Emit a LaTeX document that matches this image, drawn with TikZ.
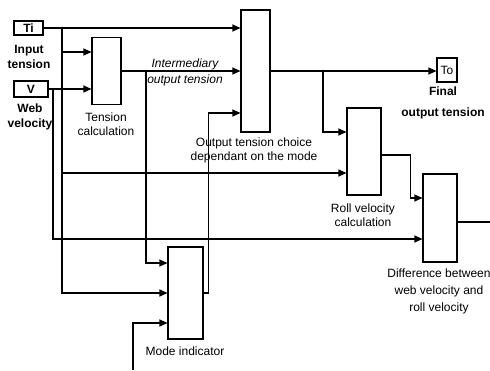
\documentclass[tikz,border=0pt]{standalone}
\usepackage{fontspec}
\setmainfont{Liberation Sans}
\usetikzlibrary{arrows.meta}

\begin{document}
\begin{tikzpicture}[x=1pt,y=-1pt,line width=1.1pt,
  blk/.style={draw,rectangle,inner sep=0pt},
  sig/.style={-{Triangle[length=8pt,width=7pt]}},
  lbl/.style={align=center,inner sep=0pt,font=\fontsize{12}{14}\selectfont},
  bld/.style={align=center,inner sep=0pt,font=\fontsize{12}{15}\selectfont\bfseries}]
  \useasboundingbox (0,0) rectangle (490,370);
  % ports
  \node[blk,bld,minimum width=29pt,minimum height=14pt] (ti) at (28.5,28) {Ti};
  \node[blk,bld,minimum width=34pt,minimum height=16pt] (v) at (31,89) {V};
  \node[blk,lbl,minimum width=20pt,minimum height=24pt] (to) at (447,70) {To};
  % blocks
  \node[blk,minimum width=29pt,minimum height=67pt] (tcalc) at (106.5,71) {};
  \node[blk,minimum width=29pt,minimum height=122pt] (choice) at (255.5,71) {};
  \node[blk,minimum width=34pt,minimum height=87pt] (roll) at (364,151.5) {};
  \node[blk,minimum width=34pt,minimum height=88pt] (diff) at (440,218) {};
  \node[blk,minimum width=35pt,minimum height=92pt] (mode) at (185.5,293) {};
  % labels
  \node[bld] (tilbl) at (29,57) {Input\\tension};
  \node[bld] (vlbl) at (30,117) {Web\\velocity};
  \node[lbl] (tcalclbl) at (106,124) {Tension\\calculation};
  \node[lbl,font=\fontsize{12}{16}\selectfont\itshape] (intlbl) at (185,72) {Intermediary\\output tension};
  \node[lbl] (choicelbl) at (254,150) {Output tension choice\\dependant on the mode};
  \node[lbl] (rolllbl) at (363,215) {Roll velocity\\calculation};
  \node[lbl,font=\fontsize{12}{17}\selectfont] (difflbl) at (439,291) {Difference between\\web velocity and\\roll velocity};
  \node[lbl] (modelbl) at (185,351) {Mode indicator};
  \node[bld] (tolbl) at (443,103) {Final\\[6pt]output tension};
  % junctions and free ends
  \coordinate (jt) at (62,28);
  \coordinate (jv) at (53,89);
  \coordinate (ji) at (146,71);
  \coordinate (jo) at (323,71);
  \coordinate (src) at (133,370);
  \coordinate (out) at (490,222);
  % signals
  \draw[sig] (ti.east) -- (choice.west |- ti.east);
  \draw[sig] (jt) |- (tcalc.west |- 0,52);
  \draw[sig] (jt) |- (roll.west |- 0,173);
  \draw[sig] (jt) |- (mode.west);
  \draw[sig] (v.east) -- (tcalc.west |- v.east);
  \draw[sig] (jv) |- (diff.west |- 0,239);
  \draw[sig] (tcalc.east) -- (choice.west |- tcalc.east);
  \draw[sig] (ji) |- (mode.west |- 0,263);
  \draw[sig] (mode.east) -- ++(5,0) |- (choice.west |- 0,113);
  \draw[sig] (src) |- (mode.west |- 0,323);
  \draw[sig] (choice.east) -- (to.west |- choice.east);
  \draw[sig] (jo) |- (roll.west |- 0,132);
  \draw[sig] (roll.east |- 0,155) -- ++(29,0) |- (diff.west |- 0,198);
  \draw (diff.east |- out) -- (out);
  \foreach \j in {jt,ji,jo}
    \fill (\j) circle (1.3pt);
\end{tikzpicture}
\end{document}
